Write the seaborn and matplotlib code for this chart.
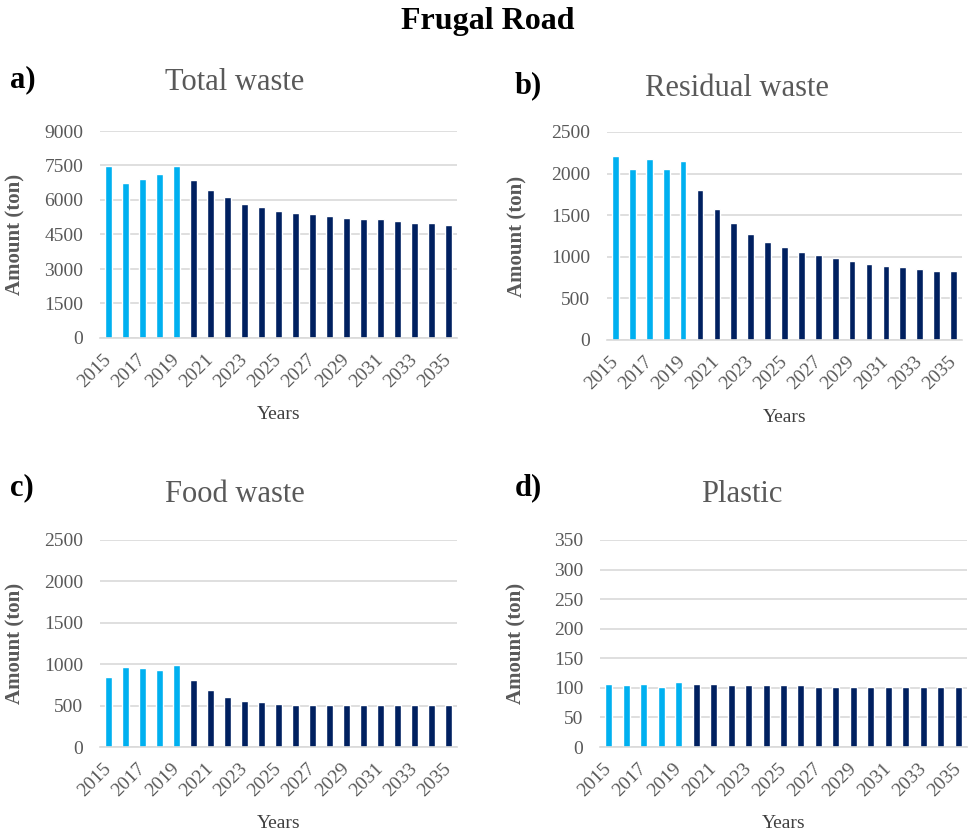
import matplotlib
matplotlib.use("Agg")
import matplotlib.pyplot as plt
import seaborn as sns
import pandas as pd

# ---- data -------------------------------------------------------------
years = list(range(2015, 2036))
last_observed_year = 2019

total_waste = [7480, 6720, 6930, 7110, 7480, 6860, 6430, 6110, 5820, 5680,
               5530, 5450, 5370, 5300, 5230, 5160, 5160, 5080, 5010, 5010, 4930]
residual_waste = [2210, 2050, 2170, 2050, 2150, 1800, 1575, 1410, 1280, 1180,
                  1115, 1055, 1020, 980, 955, 915, 895, 875, 855, 835, 835]
food_waste = [850, 970, 950, 930, 995, 805, 685, 600, 560, 540,
              520, 505, 505, 505, 505, 505, 505, 505, 505, 505, 505]
plastic = [107, 105, 107, 102, 110, 107, 107, 105, 105, 105,
           105, 105, 102, 102, 102, 102, 102, 102, 102, 102, 102]

panel_letters = ["a)", "b)", "c)", "d)"]
panel_titles = ["Total waste", "Residual waste", "Food waste", "Plastic"]
panel_series = [total_waste, residual_waste, food_waste, plastic]
y_max = [9000, 2500, 2500, 350]
y_step = [1500, 500, 500, 50]

suptitle = "Frugal Road"
y_label = "Amount (ton)"
x_label = "Years"

# ---- style ------------------------------------------------------------
sns.set_theme(style="white")
plt.rcParams["font.family"] = ["Liberation Serif", "DejaVu Serif"]

LIGHT = "#00B0F0"
DARK = "#002060"
GRID = "#D9D9D9"
TEXT = "#595959"

fig = plt.figure(figsize=(9.75, 8.36), dpi=100)
W, H = 975, 836

# axes boxes in pixels: left, top, right, bottom
boxes = [(100, 131, 457, 338), (607, 132, 962, 340),
         (100, 540, 457, 747), (600, 540, 967, 747)]
ylabel_x = [-0.21, -0.225, -0.21, -0.20]
letter_pos = [(10, 80), (515, 86), (10, 488), (515, 488)]
title_pos = [(235, 82), (737, 88), (235, 494), (742, 494)]

for i, series in enumerate(panel_series):
    l, t, r, b = boxes[i]
    ax = fig.add_axes([l / W, 1 - b / H, (r - l) / W, (b - t) / H])
    df = pd.DataFrame({
        "Year": years,
        "Amount": series,
        "Period": ["Observed" if y <= last_observed_year else "Projected" for y in years],
    })
    sns.barplot(data=df, x="Year", y="Amount", hue="Period",
                palette={"Observed": LIGHT, "Projected": DARK},
                dodge=False, width=0.4, saturation=1, legend=False, ax=ax)

    ax.set_ylim(0, y_max[i])
    ax.set_yticks(range(0, y_max[i] + 1, y_step[i]))
    ax.set_xlim(-0.5, len(years) - 0.5)
    ax.yaxis.grid(True, color=GRID, linewidth=1.2)
    ax.set_axisbelow(True)
    for side in ["top", "right", "left"]:
        ax.spines[side].set_visible(False)
    ax.spines["bottom"].set_color(GRID)
    ax.spines["bottom"].set_linewidth(1.2)

    ax.set_xticks(range(0, len(years), 2))
    ax.set_xticklabels([str(y) for y in years[::2]], rotation=45,
                       ha="right", va="center", rotation_mode="anchor")
    ax.tick_params(axis="x", length=0, pad=14, labelsize=14, labelcolor=TEXT)
    ax.tick_params(axis="y", length=0, pad=12, labelsize=14, labelcolor=TEXT)

    ax.set_ylabel(y_label, fontsize=15, fontweight="bold", color=TEXT)
    ax.yaxis.set_label_coords(ylabel_x[i], 0.5)
    ax.set_xlabel(x_label, fontsize=14, color="#404040")
    ax.xaxis.set_label_coords(0.5, -0.33)

    lx, ly = letter_pos[i]
    fig.text(lx / W, 1 - ly / H, panel_letters[i], fontsize=22,
             fontweight="bold", color="black", ha="left", va="center")
    tx, ty = title_pos[i]
    fig.text(tx / W, 1 - ty / H, panel_titles[i], fontsize=22,
             color=TEXT, ha="center", va="center")

fig.text(0.5, 1 - 22 / H, suptitle, fontsize=23, fontweight="bold",
         color="black", ha="center", va="center")

fig.savefig("out.png", dpi=100, facecolor="white")
